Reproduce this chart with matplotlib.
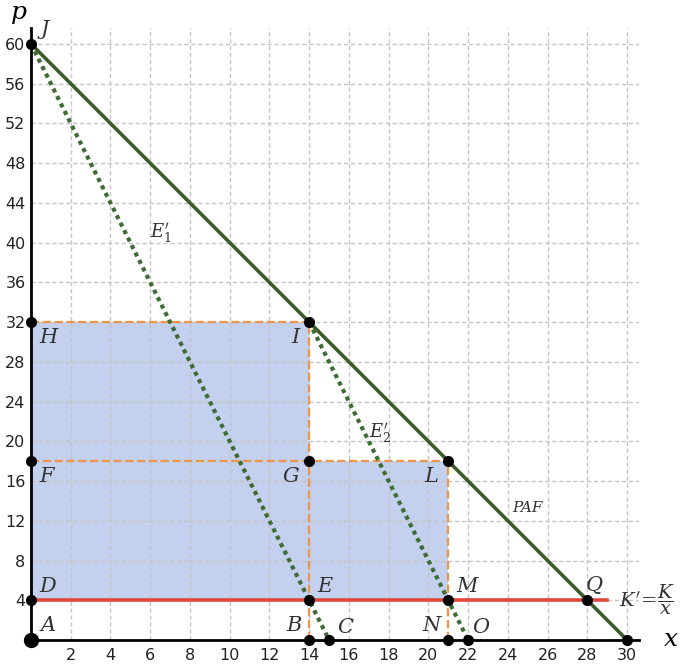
import matplotlib
matplotlib.use("Agg")
import matplotlib.pyplot as plt

plt.rcParams["mathtext.fontset"] = "dejavuserif"

# demand line PAF and the two E' lines
paf_x = [0, 30]
paf_p = [60, 0]
e1_x = [0, 15]
e1_p = [60, 0]
e2_x = [14, 22]
e2_p = [32, 0]
k_x = [0, 29]
k_p = [4, 4]

# shaded rectangles (x0, x1, p0, p1)
rects = [(0, 14, 4, 32), (14, 21, 4, 18)]

# orange dashed guides
guides_h = [(0, 14, 32), (0, 21, 18)]
guides_v = [(14, 0, 32), (21, 0, 18)]

# labelled points: name, x, p, dx, dy, ha, va
points = [
    ("J", 0, 60, 0.5, 0.5, "left", "bottom"),
    ("H", 0, 32, 0.4, -0.6, "left", "top"),
    ("I", 14, 32, -0.5, -0.6, "right", "top"),
    ("F", 0, 18, 0.4, -0.6, "left", "top"),
    ("G", 14, 18, -0.5, -0.6, "right", "top"),
    ("L", 21, 18, -0.5, -0.6, "right", "top"),
    ("D", 0, 4, 0.4, 0.4, "left", "bottom"),
    ("E", 14, 4, 0.4, 0.4, "left", "bottom"),
    ("M", 21, 4, 0.4, 0.4, "left", "bottom"),
    ("Q", 28, 4, -0.1, 0.5, "left", "bottom"),
    ("A", 0, 0, 0.5, 0.5, "left", "bottom"),
    ("B", 14, 0, -0.4, 0.5, "right", "bottom"),
    ("C", 15, 0, 0.4, 0.3, "left", "bottom"),
    ("N", 21, 0, -0.4, 0.5, "right", "bottom"),
    ("O", 22, 0, 0.2, 0.3, "left", "bottom"),
    ("", 30, 0, 0, 0, "left", "bottom"),
]

GREEN = "#3d5c27"
DOT_GREEN = "#3f6b34"
RED = "#e2463b"
ORANGE = "#ef9549"
FILL = "#c3d1ee"

fig = plt.figure(figsize=(6.85, 6.69), dpi=100)
ax = fig.add_axes([31 / 685, 29 / 669, 608 / 685, 612 / 669])
ax.set_xlim(0, 30.6)
ax.set_ylim(0, 61.6)

for x0, x1, p0, p1 in rects:
    ax.fill_between([x0, x1], p0, p1, color=FILL, lw=0, zorder=0.2)

ax.set_axisbelow(True)
ax.grid(True, color="#c4c4c4", linestyle=(0, (3, 2)), linewidth=1.0)
ax.set_xticks(range(2, 31, 2))
ax.set_yticks(range(4, 61, 4))
ax.tick_params(length=0, labelsize=11.5, colors="#222222", pad=6)
ax.tick_params(axis="y", pad=4)

for s in ["top", "right"]:
    ax.spines[s].set_visible(False)
for s in ["left", "bottom"]:
    ax.spines[s].set_linewidth(2)

for x0, x1, p in guides_h:
    ax.plot([x0, x1], [p, p], color=ORANGE, ls="--", lw=1.6, zorder=2)
for x, p0, p1 in guides_v:
    ax.plot([x, x], [p0, p1], color=ORANGE, ls="--", lw=1.6, zorder=2)

ax.plot(k_x, k_p, color=RED, lw=2.6, zorder=3)
ax.plot(paf_x, paf_p, color=GREEN, lw=2.6, zorder=3)
ax.plot(e1_x, e1_p, color=DOT_GREEN, lw=3, ls=(0, (1, 1)), zorder=3)
ax.plot(e2_x, e2_p, color=DOT_GREEN, lw=3, ls=(0, (1, 1)), zorder=3)

lab = dict(family="DejaVu Serif", style="italic", fontsize=15, color="#333333")
for name, x, p, dx, dy, ha, va in points:
    size = 10 if name == "A" else 7
    ax.plot(x, p, "o", color="black", ms=size, zorder=5, clip_on=False)
    if name:
        ax.text(x + dx, p + dy, name, ha=ha, va=va, **lab)

ax.text(6.0, 40.4, r"$E_1'$", fontsize=13, color="#333333")
ax.text(17.0, 20.3, r"$E_2'$", fontsize=13, color="#333333")
ax.text(24.2, 12.9, "PAF", family="DejaVu Serif", style="italic",
        fontsize=11, color="#333333")
ax.text(29.6, 4, r"$K'\!=\!\dfrac{K}{x}$", fontsize=14, va="center",
        color="#333333", clip_on=False)
ax.text(-0.6, 62.0, "p", family="DejaVu Serif", style="italic",
        fontsize=18, ha="center", va="bottom")
ax.text(32.2, 0, "x", family="DejaVu Serif", style="italic",
        fontsize=18, ha="center", va="center")

fig.savefig("out.png", dpi=100)
